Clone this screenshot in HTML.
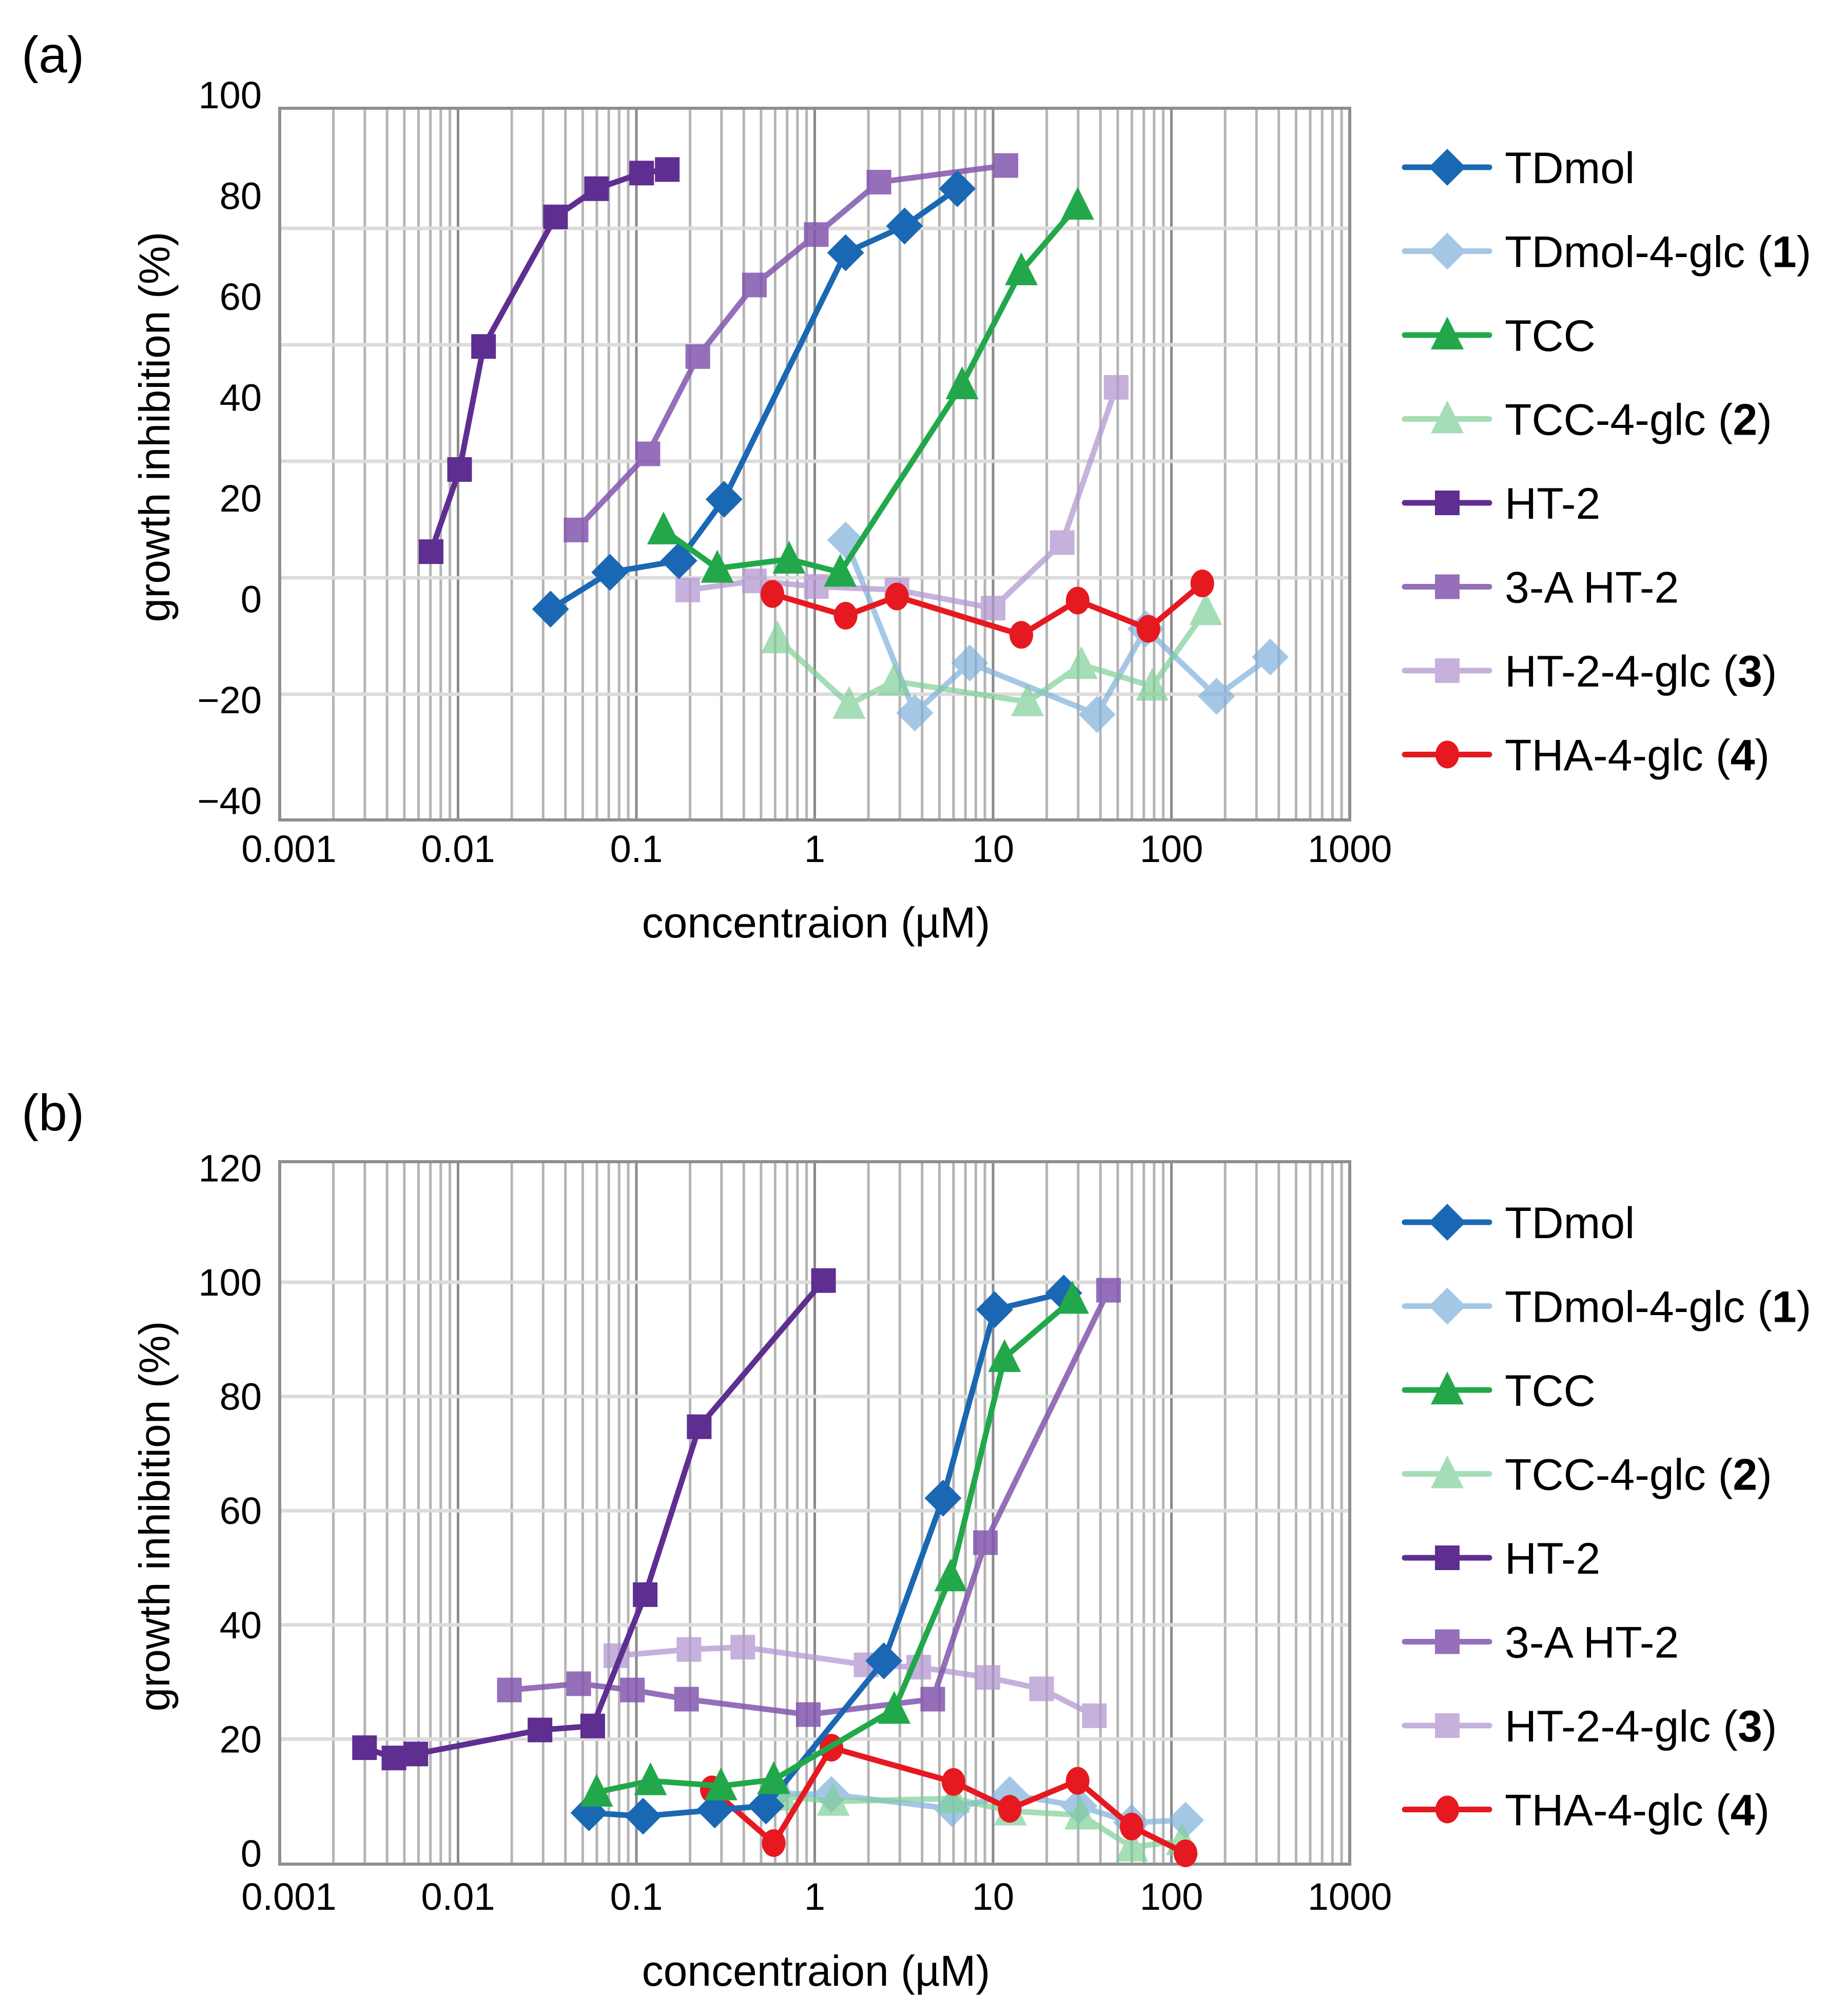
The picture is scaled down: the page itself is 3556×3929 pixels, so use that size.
<!DOCTYPE html>
<html><head><meta charset="utf-8">
<style>
html,body{margin:0;padding:0;background:#fff;}
svg{display:block;font-family:"Liberation Sans",Arial,sans-serif;}
</style></head>
<body>
<svg id="fig" width="3556" height="3929" viewBox="0 0 3556 3929" xmlns="http://www.w3.org/2000/svg">
<rect width="3556" height="3929" fill="#fff"/>
</svg>
<script>
// ---- Panel (a) data ----
const seriesNames = ["TDmol","TDmol-4-glc (1)","TCC","TCC-4-glc (2)","HT-2","3-A HT-2","HT-2-4-glc (3)","THA-4-glc (4)"];
const aConc_TDmol = [0.033,0.071,0.173,0.31,1.49,3.19,6.3];
const aVal_TDmol = [-2,5.3,7.6,19.8,68.7,74,81.4];
const aConc_TDmolGlc = [1.49,3.64,7.4,38.3,71.8,179,358];
const aVal_TDmolGlc = [11.7,-22.6,-12.7,-22.9,-5.9,-19.3,-11.5];
const aConc_TCC = [0.142,0.284,0.718,1.39,6.7,14.4,29.8];
const aVal_TCC = [13.7,6.1,7.9,5.3,42.5,65.1,78.1];
const aConc_TCCGlc = [0.618,1.56,2.79,15.6,31.3,78,156];
const aVal_TCCGlc = [-7.9,-20.9,-16.3,-20.4,-13,-17.3,-2.3];
const aConc_HT2 = [0.00706,0.0102,0.0139,0.0352,0.0598,0.107,0.149];
const aVal_HT2 = [9.4,25.7,50.1,75.8,81.4,84.5,85.2];
const aConc_3AHT2 = [0.0459,0.116,0.221,0.459,1.02,2.29,11.8];
const aVal_3AHT2 = [13.7,28.8,48.1,62.3,72.3,82.7,86];
const aConc_HT2Glc = [0.194,0.459,1.02,2.89,10,24.4,49];
const aVal_HT2Glc = [1.8,3.6,2.5,1.8,-1.8,11.2,42];
const aConc_THA = [0.579,1.49,2.89,14.4,29.8,74.3,149];
const aVal_THA = [1,-3.3,0.5,-7.1,-0.3,-5.9,3.1];
// ---- Panel (b) data ----
const bConc_TDmol = [0.0542,0.109,0.275,0.533,2.44,5.24,10.2,24.9];
const bVal_TDmol = [7.1,6.5,7.6,8.3,33.7,62.2,95.2,98.1];
const bConc_TDmolGlc = [0.6,1.24,5.89,12.4,30.3,59.8,120];
const bVal_TDmolGlc = [10.5,10.3,7.8,10.3,8.3,5.4,5.8];
const bConc_TCC = [0.0598,0.12,0.298,0.589,2.79,5.79,11.6,27.9];
const bVal_TCC = [10.7,12.7,11.8,12.9,25.2,48.4,86.8,97];
const bConc_TCCGlc = [0.65,1.27,6.0,12.5,31,60,115];
const bVal_TCCGlc = [10,9.1,9.6,7.4,6.7,1.1,2.2];
const bConc_HT2 = [0.00299,0.00437,0.0058,0.0288,0.0569,0.112,0.225,1.12];
const bVal_HT2 = [18.5,16.7,17.4,21.6,22.3,45.3,74.7,100.3];
const bConc_3AHT2 = [0.0194,0.0475,0.095,0.191,0.92,4.59,9.06,44.4];
const bVal_3AHT2 = [28.6,29.7,28.6,27,24.3,27,54.4,98.6];
const bConc_HT2Glc = [0.0767,0.197,0.395,1.94,3.83,9.36,18.7,37];
const bVal_HT2Glc = [34.6,35.7,36.1,33,32.6,30.8,28.8,24.1];
const bConc_THA = [0.265,0.589,1.24,6.0,12.4,29.8,59.8,120];
const bVal_THA = [11.2,1.8,18.5,12.5,7.8,12.7,4.7,0];
// ---- ticks ----
const xTickLabels = ["0.001","0.01","0.1","1","10","100","1000"];
const xTickValues = [0.001,0.01,0.1,1,10,100,1000];
const aYTicks = [100,80,60,40,20,0,-20,-40];
const bYTicks = [120,100,80,60,40,20,0];

const NS="http://www.w3.org/2000/svg";
const svg=document.getElementById('fig');
function el(tag,attrs,parent){const e=document.createElementNS(NS,tag);for(const k in attrs)e.setAttribute(k,attrs[k]);(parent||svg).appendChild(e);return e;}

const styles=[
 {c:"#1a68b3",o:1,m:"diamond"},
 {c:"#7fb0dc",o:0.7,m:"diamond"},
 {c:"#22a84a",o:1,m:"triangle"},
 {c:"#7fcf98",o:0.7,m:"triangle"},
 {c:"#5e2e91",o:1,m:"square"},
 {c:"#8356ae",o:0.85,m:"square"},
 {c:"#b498d1",o:0.75,m:"square"},
 {c:"#e5191f",o:1,m:"circle"}
];
function marker(g,type,x,y,color){
  let e;
  if(type==="diamond"){e=el('polygon',{points:`${x},${y-36} ${x+36},${y} ${x},${y+36} ${x-36},${y}`,fill:color},g);}
  else if(type==="triangle"){e=el('polygon',{points:`${x},${y-36} ${x+32},${y+28} ${x-32},${y+28}`,fill:color},g);}
  else if(type==="square"){e=el('rect',{x:x-24,y:y-24,width:48,height:48,fill:color},g);}
  else {e=el('ellipse',{cx:x,cy:y,rx:23,ry:27,fill:color},g);}
  return e;
}

function panel(cfg){
  const {top,bottom,left,right,yOf,hGrid,yTicks,label,labelY,tickLabelY,xTitleY,yTitleY,sets,pre,legendY}=cfg;
  const xOf=c=>left+(right-left)/6*(Math.log10(c)+3);
  const g=el('g',{});
  
  
  const pl=el('text',{x:42,y:labelY,'font-size':100,fill:'#000'},g);pl.textContent=label;
  
  const grid=el('g',{},g);
  
  for(let d=-3;d<3;d++){for(let k=2;k<=9;k++){const x=xOf(k*Math.pow(10,d));el('line',{x1:x,x2:x,y1:top,y2:bottom,stroke:'#b4b4b4','stroke-width':5},grid);}}
  for(let d=-2;d<3;d++){const x=xOf(Math.pow(10,d));el('line',{x1:x,x2:x,y1:top,y2:bottom,stroke:'#8a8a8a','stroke-width':5},grid);}
  hGrid.forEach(y=>el('line',{x1:left,x2:right,y1:y,y2:y,stroke:'#dcdcdc','stroke-width':7},grid));
  const frame=el('rect',{x:left,y:top,width:right-left,height:bottom-top,fill:'none',stroke:'#8f8f8f','stroke-width':6},g);
  
  const yt=el('g',{},g);
  yTicks.forEach(v=>{const t=el('text',{x:510,y:yOf(v)+26,'text-anchor':'end','font-size':74,fill:'#000'},yt);t.textContent=(v<0?'\u2212'+(-v):String(v));});
  const xt=el('g',{},g);
  xTickValues.forEach((v,i)=>{const t=el('text',{x:xOf(v)+(i===0?18:0),y:tickLabelY,'text-anchor':'middle','font-size':74,fill:'#000'},xt);t.textContent=xTickLabels[i];});
  const xtTitle=el('text',{x:1590,y:xTitleY,'text-anchor':'middle','font-size':84,fill:'#000'},g);xtTitle.textContent='concentraion (\u00b5M)';
  
  const ytTitle=el('text',{x:0,y:0,'text-anchor':'middle','font-size':84,fill:'#000',transform:`translate(330,${yTitleY}) rotate(-90)`},g);ytTitle.textContent='growth inhibition (%)';
  
  const order=[1,3,6,5,7,0,2,4];
  order.forEach(i=>{
    const [cs,vs]=sets[i];const st=styles[i];
    const sg=el('g',{opacity:st.o},g);
    
    
    const pts=cs.map((c,j)=>xOf(c)+','+yOf(vs[j])).join(' ');
    el('polyline',{points:pts,fill:'none',stroke:st.c,'stroke-width':11,'stroke-linejoin':'round'},sg);
    cs.forEach((c,j)=>{const m=marker(sg,st.m,xOf(c),yOf(vs[j]),st.c);
      
      });
  });
  const lg=el('g',{},g);
  seriesNames.forEach((n,i)=>{
    const y=legendY+i*163.5;const st=styles[i];
    const eg=el('g',{},lg);
    
    
    const mg=el('g',{opacity:st.o},eg);
    el('line',{x1:2737,x2:2902,y1:y,y2:y,stroke:st.c,'stroke-width':11,'stroke-linecap':'round'},mg);
    marker(mg,st.m,2820,y,st.c);
    const t=el('text',{x:2932,y:y+31,'font-size':86,fill:'#000'},eg);
    const m=n.match(/^(.*)\((\d)\)$/);
    if(m){t.appendChild(document.createTextNode(m[1]+'('));const b=el('tspan',{'font-weight':'bold'},t);b.textContent=m[2];t.appendChild(document.createTextNode(')'));}
    else t.textContent=n;
  });
}

panel({pre:'panel-a',label:'(a)',labelY:141,top:211,bottom:1598,left:545,right:2630,
  yOf:v=>1167.5-9.825*v,hGrid:[445,672,899,1126,1353],yTicks:aYTicks,tickLabelY:1680,xTitleY:1827,yTitleY:832,legendY:326,
  sets:[[aConc_TDmol,aVal_TDmol],[aConc_TDmolGlc,aVal_TDmolGlc],[aConc_TCC,aVal_TCC],[aConc_TCCGlc,aVal_TCCGlc],[aConc_HT2,aVal_HT2],[aConc_3AHT2,aVal_3AHT2],[aConc_HT2Glc,aVal_HT2Glc],[aConc_THA,aVal_THA]]});
panel({pre:'panel-b',label:'(b)',labelY:2203,top:2264,bottom:3633,left:545,right:2630,
  yOf:v=>3612-11.13*v,hGrid:[20,40,60,80,100].map(v=>3612-11.13*v),yTicks:bYTicks,tickLabelY:3722,xTitleY:3870,yTitleY:2955,legendY:2382,
  sets:[[bConc_TDmol,bVal_TDmol],[bConc_TDmolGlc,bVal_TDmolGlc],[bConc_TCC,bVal_TCC],[bConc_TCCGlc,bVal_TCCGlc],[bConc_HT2,bVal_HT2],[bConc_3AHT2,bVal_3AHT2],[bConc_HT2Glc,bVal_HT2Glc],[bConc_THA,bVal_THA]]});
</script>
</body></html>
